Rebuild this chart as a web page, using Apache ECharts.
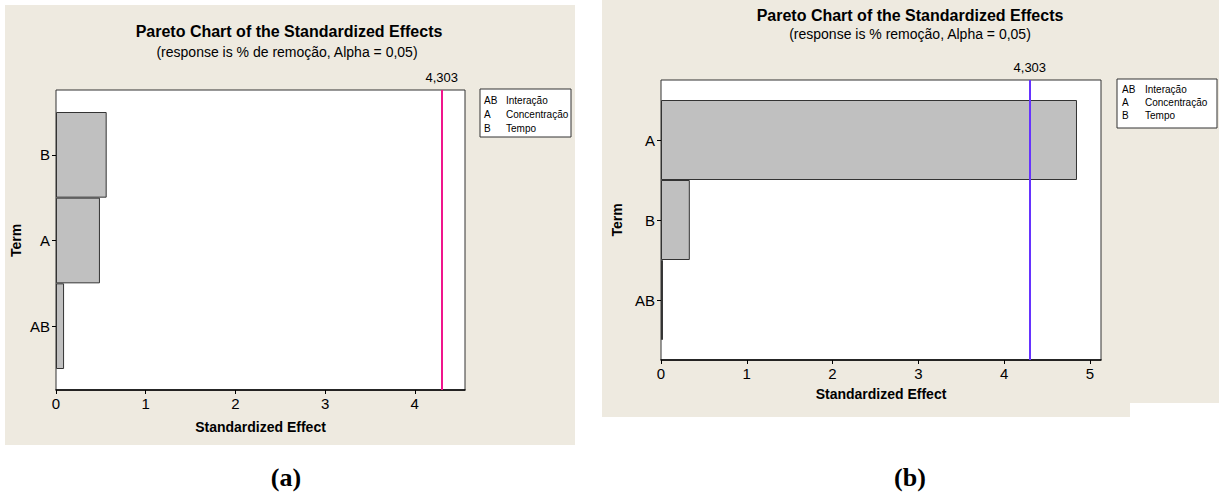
<!DOCTYPE html>
<html>
<head>
<meta charset="utf-8">
<title>Pareto Chart of the Standardized Effects</title>
<script src="https://cdn.jsdelivr.net/npm/echarts@6/dist/echarts.min.js"></script>
<style>
  html, body { margin: 0; padding: 0; background: #ffffff; }
  #chart { width: 1219px; height: 499px; }
</style>
</head>
<body>
<div id="chart"></div>
<script>
// Terms listed bottom-to-top along the vertical axis of each panel
const termsA = ['AB', 'A', 'B'];
const effectsA = [0.09, 0.49, 0.565];
const termsB = ['AB', 'B', 'A'];
const effectsB = [0.023, 0.336, 4.85];

// Critical t value drawn as the reference line
const criticalValue = 4.303;
const criticalLabel = '4,303';

// Tick values of the x axes
const ticksA = [0, 1, 2, 3, 4];
const ticksB = [0, 1, 2, 3, 4, 5];

// Texts
const chartTitle = 'Pareto Chart of the Standardized Effects';
const subtitleA = '(response is % de remoção, Alpha = 0,05)';
const subtitleB = '(response is % remoção, Alpha = 0,05)';
const xName = 'Standardized Effect';
const yName = 'Term';
const keyCodes = ['AB', 'A', 'B'];
const keyNames = ['Interação', 'Concentração', 'Tempo'];
const panelTags = ['(a)', '(b)'];

const FONT = "'Liberation Sans', sans-serif";
const BEIGE = '#EEEAE0';
const BAR = '#C0C0C0';
const EDGE = '#333333';

const chart = echarts.init(document.getElementById('chart'), null, { renderer: 'svg' });

function panel(p) {
  // p: geometry and data of one Pareto panel
  const gi = p.index * 2;
  const grids = [
    { left: p.left, top: p.top, width: p.width, height: p.height, show: true,
      backgroundColor: '#ffffff', borderColor: EDGE, borderWidth: 1 },
    { left: p.left, top: p.barTop, width: p.width, height: p.barHeight }
  ];
  const xAxes = [
    { type: 'value', gridIndex: gi, min: 0, max: p.max,
      axisLine: { show: true, lineStyle: { color: '#000', width: 1.5 } },
      axisTick: { show: true, length: 4, customValues: p.ticks, lineStyle: { color: '#000' } },
      axisLabel: { customValues: p.ticks, color: '#000', fontFamily: FONT, fontSize: 15, margin: 6 },
      splitLine: { show: false },
      name: xName, nameLocation: 'middle', nameGap: p.xNameGap,
      nameTextStyle: { color: '#000', fontFamily: FONT, fontSize: 14, fontWeight: 'bold' } },
    { type: 'value', gridIndex: gi + 1, min: 0, max: p.max, show: false }
  ];
  const yAxes = [
    { type: 'value', gridIndex: gi, min: 0, max: 1, show: false },
    { type: 'category', gridIndex: gi + 1, data: p.terms, boundaryGap: true,
      axisLine: { show: false },
      axisTick: { show: true, alignWithLabel: true, length: 4, lineStyle: { color: '#000' } },
      axisLabel: { color: '#000', fontFamily: FONT, fontSize: 15, margin: 6 },
      name: yName, nameLocation: 'middle', nameGap: p.yNameGap, nameRotate: 90,
      nameTextStyle: { color: '#000', fontFamily: FONT, fontSize: 14, fontWeight: 'bold' } }
  ];
  const series = [
    { type: 'bar', xAxisIndex: gi + 1, yAxisIndex: gi + 1, data: p.values,
      barCategoryGap: 0, barWidth: '100%', silent: true,
      itemStyle: { color: BAR, borderColor: EDGE, borderWidth: 1 } },
    { type: 'line', xAxisIndex: gi, yAxisIndex: gi, data: [], silent: true,
      markLine: { silent: true, symbol: 'none', animation: false,
        lineStyle: { type: 'solid', color: p.lineColor, width: 2 },
        label: { show: true, position: 'end', distance: 6, formatter: criticalLabel,
          color: '#000', fontFamily: FONT, fontSize: 13 },
        data: [{ xAxis: criticalValue }] } }
  ];
  return { grids, xAxes, yAxes, series };
}

const left = panel({ index: 0, left: 56, top: 90, width: 409, height: 300,
  barTop: 112, barHeight: 257, max: 4.56, ticks: ticksA, terms: termsA, values: effectsA,
  lineColor: '#F0158C', xNameGap: 30, yNameGap: 33 });
const right = panel({ index: 1, left: 661, top: 80, width: 440, height: 280,
  barTop: 100, barHeight: 240, max: 5.13, ticks: ticksB, terms: termsB, values: effectsB,
  lineColor: '#6633FF', xNameGap: 27, yNameGap: 37 });

function keyBox(x, y, w, h, colX1, colX2, rowY, fontSize) {
  const children = [{ type: 'rect', shape: { x: 0, y: 0, width: w, height: h },
    style: { fill: '#ffffff', stroke: EDGE, lineWidth: 1 } }];
  keyCodes.forEach((c, i) => {
    children.push({ type: 'text', x: colX1, y: rowY[i],
      style: { text: c, fill: '#000', font: fontSize + 'px ' + FONT, textVerticalAlign: 'middle' } });
    children.push({ type: 'text', x: colX2, y: rowY[i],
      style: { text: keyNames[i], fill: '#000', font: fontSize + 'px ' + FONT, textVerticalAlign: 'middle' } });
  });
  return { type: 'group', x: x, y: y, children: children };
}

function centeredText(text, x, y, font) {
  return { type: 'text', x: x, y: y,
    style: { text: text, fill: '#000', font: font, textAlign: 'center', textVerticalAlign: 'middle' } };
}

const graphics = [
  // panel backgrounds
  { type: 'rect', z: -10, shape: { x: 5, y: 5, width: 570, height: 440 }, style: { fill: BEIGE } },
  { type: 'rect', z: -10, shape: { x: 602, y: 0, width: 617, height: 403 }, style: { fill: BEIGE } },
  { type: 'rect', z: -10, shape: { x: 602, y: 403, width: 528, height: 14 }, style: { fill: BEIGE } },
  // titles
  centeredText(chartTitle, 289, 31, 'bold 16px ' + FONT),
  centeredText(subtitleA, 287, 52, '14px ' + FONT),
  centeredText(chartTitle, 910, 15, 'bold 16px ' + FONT),
  centeredText(subtitleB, 910, 34, '14px ' + FONT),
  // term keys
  keyBox(480, 89, 91, 48, 4, 26, [11, 25, 39], 10),
  keyBox(1117, 79, 100, 49, 5, 28, [10, 23, 36], 10),
  // panel tags
  centeredText(panelTags[0], 286, 477, 'bold 26px "Liberation Serif", serif'),
  centeredText(panelTags[1], 910, 477, 'bold 26px "Liberation Serif", serif')
];

chart.setOption({
  animation: false,
  backgroundColor: '#ffffff',
  grid: left.grids.concat(right.grids),
  xAxis: left.xAxes.concat(right.xAxes),
  yAxis: left.yAxes.concat(right.yAxes),
  series: left.series.concat(right.series),
  graphic: graphics
});
</script>
</body>
</html>
